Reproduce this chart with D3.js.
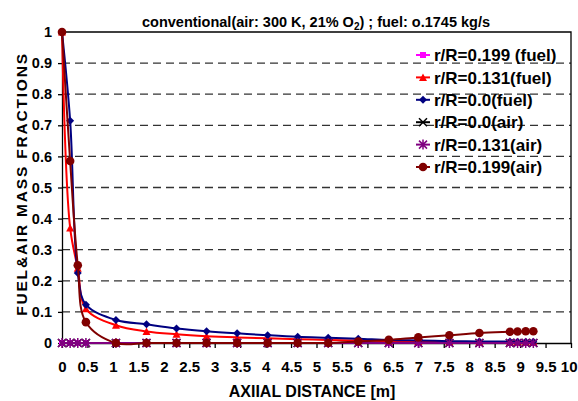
<!DOCTYPE html>
<html>
<head>
<meta charset="utf-8">
<script src="https://cdn.jsdelivr.net/npm/d3@7"></script>
<style>
  body { margin: 0; background: #fff; }
  svg text { font-family: Arial, "Liberation Sans", sans-serif; font-weight: bold; fill: #000; }
</style>
</head>
<body>
<div id="d3-container"></div>
<script>
/**
 * CONSTANTS AND GLOBALS
 * */
const width = 578,
  height = 401,
  margin = { top: 32, bottom: 58, left: 62, right: 7 };

/**
 * DATA
 * */
const axialDistance = [0, 0.16, 0.31, 0.47, 1.06, 1.66, 2.25, 2.84, 3.44, 4.04, 4.63,
  5.23, 5.82, 6.42, 7.0, 7.61, 8.2, 8.8, 8.95, 9.11, 9.26];

const fuel0199 = [0, 0, 0, 0, 0, 0, 0, 0, 0, 0, 0, 0, 0, 0, 0, 0, 0, 0, 0, 0, 0];
const fuel0131 = [1, 0.37, 0.24, 0.11, 0.057, 0.037, 0.028, 0.022, 0.018, 0.015, 0.012,
  0.01, 0.008, 0.006, 0.005, 0.004, 0.003, 0.003, 0.003, 0.003, 0.003];
const fuel00 = [1, 0.715, 0.225, 0.123, 0.074, 0.06, 0.047, 0.038, 0.031, 0.025, 0.02,
  0.017, 0.014, 0.01, 0.008, 0.006, 0.005, 0.005, 0.004, 0.004, 0.004];
const air00 = [0, 0, 0, 0, 0, 0, 0, 0, 0, 0, 0, 0, 0, 0, 0, 0, 0, 0, 0, 0, 0];
const air0131 = [0, 0, 0, 0, 0, 0, 0, 0, 0, 0, 0, 0, 0, 0, 0, 0, 0, 0, 0, 0, 0];
const air0199 = [1, 0.585, 0.25, 0.067, 0, 0, 0, 0, 0, 0, 0,
  0, 0.005, 0.01, 0.018, 0.025, 0.032, 0.036, 0.037, 0.038, 0.038];

const seriesNames = ["r/R=0.199 (fuel)", "r/R=0.131(fuel)", "r/R=0.0(fuel)",
  "r/R=0.0(air)", "r/R=0.131(air)", "r/R=0.199(air)"];
const seriesValues = [fuel0199, fuel0131, fuel00, air00, air0131, air0199];
const seriesColors = ["#ff00ff", "#ff0000", "#000080", "#000000", "#800080", "#800000"];
const seriesMarkers = ["square", "triangle", "diamond", "cross", "star", "circle"];

const xTicks = d3.range(0, 10.01, 0.5);
const yTicks = d3.range(0, 1.001, 0.1);

/**
 * SCALES
 * */
const xScale = d3.scaleLinear().domain([0, 10]).range([margin.left, width - margin.right]);
const yScale = d3.scaleLinear().domain([0, 1]).range([height - margin.bottom, margin.top]);

const svg = d3.select("#d3-container")
  .append("svg")
  .attr("width", width)
  .attr("height", height);

svg.append("rect").attr("width", width).attr("height", height).attr("fill", "#fff");

// dashed gridlines
svg.append("g")
  .selectAll("line")
  .data(yTicks.filter(d => d > 0.05 && d < 0.95))
  .join("line")
  .attr("x1", margin.left)
  .attr("x2", width - margin.right)
  .attr("y1", d => yScale(d))
  .attr("y2", d => yScale(d))
  .attr("stroke", "#333")
  .attr("stroke-width", 1.3)
  .attr("stroke-dasharray", "8,5");

// plot frame (top + right)
svg.append("path")
  .attr("d", `M${margin.left},${yScale(1)}H${xScale(10)}V${yScale(0)}`)
  .attr("fill", "none")
  .attr("stroke", "#000")
  .attr("stroke-width", 1.3);

// AXES
const xAxis = svg.append("g")
  .attr("transform", `translate(0,${yScale(0)})`)
  .call(d3.axisBottom(xScale).tickValues(xTicks).tickSize(5).tickSizeOuter(0)
    .tickFormat(d3.format("~g")));
xAxis.selectAll("text").attr("font-size", 15).attr("y", 18);
// last label sits at the window edge: pull it in so it is not cut
xAxis.selectAll("text").filter(d => d === 10).attr("text-anchor", "end").attr("x", 6);

const yAxis = svg.append("g")
  .attr("transform", `translate(${margin.left},0)`)
  .call(d3.axisLeft(yScale).tickValues(yTicks).tickSize(4).tickSizeOuter(0)
    .tickFormat(d3.format("~g")));
yAxis.selectAll("text").attr("font-size", 14.5).attr("x", -10);

svg.selectAll(".domain, .tick line").attr("stroke", "#000").attr("stroke-width", 1.3);

// axis titles
svg.append("text")
  .attr("x", 312)
  .attr("y", 397)
  .attr("text-anchor", "middle")
  .attr("font-size", 16)
  .text("AXIIAL DISTANCE [m]");

svg.append("text")
  .attr("transform", "translate(27,184) rotate(-90)")
  .attr("text-anchor", "middle")
  .attr("font-size", 15.5)
  .attr("letter-spacing", 1.8)
  .text("FUEL&AIR MASS FRACTIONS");

// chart title with subscript
const title = svg.append("text")
  .attr("x", 316)
  .attr("y", 27)
  .attr("text-anchor", "middle")
  .attr("font-size", 14.5);
title.append("tspan").text("conventional(air: 300 K, 21% O");
title.append("tspan").attr("font-size", 10).attr("dy", 3).text("2");
title.append("tspan").attr("dy", -3).text(") ; fuel: o.1745 kg/s");

/**
 * MARKERS
 * */
function drawMarker(g, type, color) {
  if (type === "square") {
    g.append("rect").attr("x", -3).attr("y", -3).attr("width", 6).attr("height", 6).attr("fill", color);
  } else if (type === "triangle") {
    g.append("path").attr("d", "M0,-4L4,3.5L-4,3.5Z").attr("fill", color);
  } else if (type === "diamond") {
    g.append("path").attr("d", "M0,-4L4,0L0,4L-4,0Z").attr("fill", color);
  } else if (type === "cross") {
    g.append("path").attr("d", "M-4,-4L4,4M-4,4L4,-4").attr("stroke", color).attr("stroke-width", 1.5);
  } else if (type === "star") {
    g.append("path").attr("d", "M-4,-4L4,4M-4,4L4,-4M0,-5V5").attr("stroke", color).attr("stroke-width", 1.5);
  } else {
    g.append("circle").attr("r", 4.3).attr("fill", color);
  }
}

/**
 * SERIES
 * */
const line = d3.line()
  .x(d => xScale(d[0]))
  .y(d => yScale(d[1]))
  .curve(d3.curveCatmullRom.alpha(0.5));

seriesValues.forEach((values, i) => {
  const pts = axialDistance.map((x, j) => [x, values[j]]);
  svg.append("path")
    .datum(pts)
    .attr("d", line)
    .attr("fill", "none")
    .attr("stroke", seriesColors[i])
    .attr("stroke-width", 2);

  svg.append("g")
    .selectAll("g")
    .data(pts)
    .join("g")
    .attr("transform", d => `translate(${xScale(d[0])},${yScale(d[1])})`)
    .each(function() { drawMarker(d3.select(this), seriesMarkers[i], seriesColors[i]); });
});

/**
 * LEGEND
 * */
const legend = svg.append("g").attr("transform", "translate(416,55)");
seriesNames.forEach((name, i) => {
  const row = legend.append("g").attr("transform", `translate(0,${i * 22.4})`);
  row.append("line").attr("x1", 0).attr("x2", 14).attr("stroke", seriesColors[i]).attr("stroke-width", 2);
  drawMarker(row.append("g").attr("transform", "translate(7,0)"), seriesMarkers[i], seriesColors[i]);
  row.append("text")
    .attr("x", 18)
    .attr("dy", "0.36em")
    .attr("font-size", 17)
    .text(name);
});
</script>
</body>
</html>
